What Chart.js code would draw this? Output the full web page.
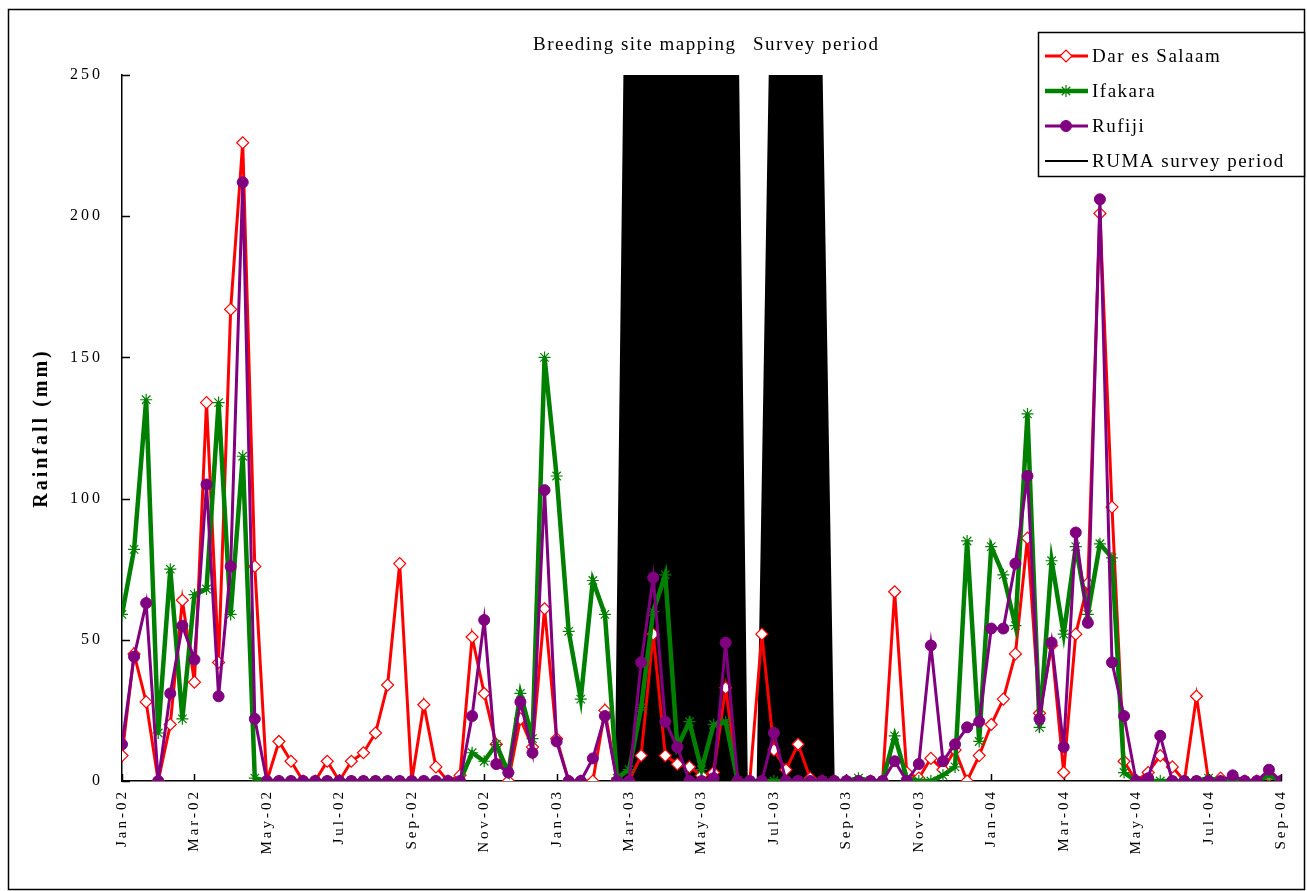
<!DOCTYPE html>
<html>
<head>
<meta charset="utf-8">
<script src="https://cdn.jsdelivr.net/npm/chart.js@4.4.1/dist/chart.umd.min.js"></script>
<style>
html,body{margin:0;padding:0;background:#fff;}
#wrap{position:relative;width:1307px;height:891px;}
canvas{display:block;}
</style>
</head>
<body>
<div id="wrap"><canvas id="c" width="1307" height="891" style="width:1307px;height:891px"></canvas></div>
<script>
// ---- categories: dekads (10-day periods) from Jan-02 (1st dekad) to Sep-04 (1st dekad)
const monthNames = ['Jan','Feb','Mar','Apr','May','Jun','Jul','Aug','Sep','Oct','Nov','Dec'];
const dekads = [];
for (let y = 2002; y <= 2004; y++) {
  for (let m = 0; m < 12; m++) {
    for (let d = 1; d <= 3; d++) {
      if (dekads.length < 97) dekads.push(monthNames[m] + '-' + String(y).slice(2) + ' D' + d);
    }
  }
}

// ---- tick labels (every 6 dekads = 2 months)
const tickLabels = ['Jan-02','Mar-02','May-02','Jul-02','Sep-02','Nov-02','Jan-03','Mar-03','May-03',
                    'Jul-03','Sep-03','Nov-03','Jan-04','Mar-04','May-04','Jul-04','Sep-04'];

// ---- series values (rainfall, mm per dekad)
const darEsSalaam = [
  9, 45, 28, 0, 20, 64, 35, 134, 42, 167, 226, 76,
  0, 14, 7, 0, 0, 7, 0, 7, 10, 17, 34, 77,
  0, 27, 5, 0, 2, 51, 31, 13, 0, 22, 12, 61,
  15, 0, 0, 0, 25, 0, 0, 9, 52, 9, 6, 5,
  2, 3, 33, 0, 0, 52, 11, 4, 13, 1, 0, 0,
  0, 0, 0, 0, 67, 3, 1, 8, 4, 11, 0, 9,
  20, 29, 45, 86, 24, 48, 3, 52, 70, 201, 97, 7,
  0, 3, 9, 5, 0, 30, 0, 1, 0, 0, 0, 2,
  0
];
const ifakara = [
  59, 82, 135, 17, 75, 22, 66, 68, 134, 59, 115, 1,
  0, 0, 0, 0, 0, 0, 0, 0, 0, 0, 0, 0,
  0, 0, 0, 0, 0, 10, 7, 13, 3, 31, 15, 150,
  108, 53, 29, 71, 59, 1, 4, 26, 60, 73, 12, 21,
  4, 20, 21, 0, 0, 0, 0, 0, 0, 0, 0, 0,
  0, 1, 0, 0, 16, 1, 0, 0, 2, 5, 85, 14,
  83, 73, 55, 130, 19, 78, 52, 83, 59, 84, 79, 3,
  0, 0, 0, 0, 0, 0, 1, 0, 0, 0, 0, 2,
  0
];
const rufiji = [
  13, 44, 63, 0, 31, 55, 43, 105, 30, 76, 212, 22,
  0, 0, 0, 0, 0, 0, 0, 0, 0, 0, 0, 0,
  0, 0, 0, 0, 0, 23, 57, 6, 3, 28, 10, 103,
  14, 0, 0, 8, 23, 0, 0, 42, 72, 21, 12, 0,
  0, 1, 49, 0, 0, 0, 17, 0, 0, 0, 0, 0,
  0, 0, 0, 0, 7, 0, 6, 48, 7, 13, 19, 21,
  54, 54, 77, 108, 22, 49, 12, 88, 56, 206, 42, 23,
  0, 1, 16, 0, 0, 0, 0, 0, 2, 0, 0, 4,
  0
];
// RUMA survey period marker series: position in dekads and (off-scale) value
const rumaDekad = [40, 40.9, 41.9, 50.75, 51.75, 52.65, 54.05, 57.55, 58.95];
const rumaValue = [0, 0, 350, 350, 0, 0, 350, 350, 0];

const seriesNames = ['Dar es Salaam', 'Ifakara', 'Rufiji', 'RUMA survey period'];
const annotationTexts = ['Breeding site mapping', 'Survey period'];

const toXY = arr => arr.map((v, i) => ({x: i, y: v}));

const SERIF = '"Liberation Serif", "Times New Roman", Times, serif';
Chart.defaults.font.family = SERIF;
Chart.defaults.color = '#000';

const decorPlugin = {
  id: 'decor',
  beforeDraw(chart) {
    const ctx = chart.ctx;
    ctx.save();
    ctx.fillStyle = '#fff';
    ctx.fillRect(0, 0, chart.width, chart.height);
    ctx.restore();
    ctx.letterSpacing = '3px';
  },
  beforeDatasetsDraw(chart) {
    const ctx = chart.ctx;
    ctx.letterSpacing = '0px';
    // inner tick marks
    const xs = chart.scales.x, ys = chart.scales.y;
    const ca = chart.chartArea;
    ctx.save();
    ctx.strokeStyle = '#000';
    ctx.lineWidth = 1.5;
    ctx.beginPath();
    xs.ticks.forEach(t => {
      const px = Math.round(xs.getPixelForValue(t.value)) + 0.5;
      ctx.moveTo(px, ca.bottom);
      ctx.lineTo(px, ca.bottom - 7);
    });
    ys.ticks.forEach(t => {
      const py = Math.round(ys.getPixelForValue(t.value)) + 0.5;
      ctx.moveTo(ca.left, py);
      ctx.lineTo(ca.left + 8, py);
    });
    ctx.stroke();
    ctx.restore();
  },
  afterDraw(chart) {
    const ctx = chart.ctx;
    ctx.save();
    // outer frame
    ctx.strokeStyle = '#000';
    ctx.lineWidth = 1.5;
    ctx.strokeRect(8.5, 9.5, 1296, 880);

    // annotation texts above the plot
    ctx.fillStyle = '#000';
    ctx.font = '19px ' + SERIF;
    ctx.letterSpacing = '1.5px';
    ctx.textBaseline = 'alphabetic';
    ctx.textAlign = 'left';
    ctx.fillText(annotationTexts[0], 533, 50);
    ctx.fillText(annotationTexts[1], 753, 50);

    // legend box
    const L = {x: 1038, y: 32, w: 266, h: 144};
    ctx.fillStyle = '#fff';
    ctx.fillRect(L.x, L.y, L.w, L.h);
    ctx.lineWidth = 1.5;
    ctx.strokeStyle = '#000';
    ctx.strokeRect(L.x + 0.5, L.y + 0.5, L.w, L.h);
    const rows = [56, 91, 126, 161];
    chart.data.datasets.forEach((ds, k) => {
      const y = rows[k];
      ctx.save();
      ctx.strokeStyle = ds.borderColor;
      ctx.lineWidth = ds.borderWidth;
      ctx.beginPath();
      ctx.moveTo(1045, y);
      ctx.lineTo(1088, y);
      ctx.stroke();
      if (ds.pointRadius > 0) {
        ctx.fillStyle = ds.pointBackgroundColor;
        ctx.strokeStyle = ds.pointBorderColor;
        ctx.lineWidth = ds.pointBorderWidth;
        Chart.helpers.drawPoint(ctx, {pointStyle: ds.pointStyle, radius: ds.pointRadius, borderWidth: ds.pointBorderWidth, rotation: 0}, 1066, y);
      }
      ctx.restore();
      ctx.fillStyle = '#000';
      ctx.font = '19px ' + SERIF;
      ctx.letterSpacing = '1.5px';
      ctx.textBaseline = 'middle';
      ctx.fillText(seriesNames[k], 1092, y + 1);
    });
    ctx.restore();
    ctx.letterSpacing = '0px';
  }
};

new Chart(document.getElementById('c'), {
  type: 'line',
  data: {
    datasets: [
      {
        label: seriesNames[0], data: toXY(darEsSalaam), order: 3,
        borderColor: '#ff0000', borderWidth: 3, backgroundColor: '#ff0000',
        pointStyle: 'rectRot', pointRadius: 6, pointBorderWidth: 1.2,
        pointBackgroundColor: '#ffffff', pointBorderColor: '#ff0000', tension: 0
      },
      {
        label: seriesNames[1], data: toXY(ifakara), order: 2,
        borderColor: '#008000', borderWidth: 4.5, backgroundColor: '#008000',
        pointStyle: 'star', pointRadius: 6, pointBorderWidth: 1.2,
        pointBackgroundColor: '#008000', pointBorderColor: '#008000', tension: 0
      },
      {
        label: seriesNames[2], data: toXY(rufiji), order: 1,
        borderColor: '#800080', borderWidth: 3, backgroundColor: '#800080',
        pointStyle: 'circle', pointRadius: 5.5, pointBorderWidth: 1,
        pointBackgroundColor: '#800080', pointBorderColor: '#800080', tension: 0
      },
      {
        label: seriesNames[3], data: rumaDekad.map((d, k) => ({x: d, y: rumaValue[k]})), order: 4,
        borderColor: '#000000', borderWidth: 2, backgroundColor: '#000000',
        fill: 'origin', pointRadius: 0, pointStyle: 'line', tension: 0
      }
    ]
  },
  options: {
    responsive: false,
    animation: false,
    devicePixelRatio: 1,
    layout: {padding: {top: 75, right: 25, left: 0, bottom: 0}},
    plugins: {
      legend: {display: false},
      title: {display: false},
      tooltip: {enabled: false}
    },
    scales: {
      x: {
        type: 'linear',
        min: 0, max: dekads.length - 1,
        grid: {display: false, drawTicks: false},
        border: {display: true, color: '#000', width: 1.5},
        ticks: {
          stepSize: 6, autoSkip: false, minRotation: 90, maxRotation: 90, padding: 8,
          font: {size: 15}, color: '#000',
          callback: v => tickLabels[Math.round(v / 6)]
        },
        afterFit(s) { s.height = 110; }
      },
      y: {
        min: 0, max: 250,
        grid: {display: false, drawTicks: false},
        border: {display: true, color: '#000', width: 1.5},
        ticks: {stepSize: 50, padding: 19, font: {size: 16}, color: '#000'},
        title: {display: true, text: 'Rainfall (mm)', font: {size: 20, weight: 'bold'}, color: '#000', padding: {top: 30, bottom: 0}},
        afterFit(s) { s.width = 122; }
      }
    }
  },
  plugins: [decorPlugin]
});
</script>
</body>
</html>
